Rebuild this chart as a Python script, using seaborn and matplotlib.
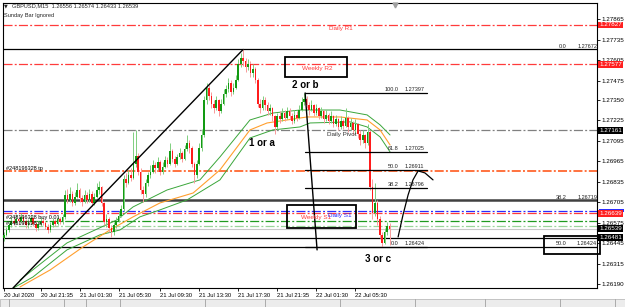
import matplotlib
matplotlib.use("Agg")
import matplotlib.pyplot as plt
import numpy as np
import pandas as pd
import seaborn as sns
from matplotlib.patches import Rectangle
from matplotlib.transforms import blended_transform_factory

# ---------------- data ----------------
first_open = 1.26480
closes = [
    1.26500, 1.26530, 1.26560, 1.26590, 1.26575, 1.26600, 1.26585, 1.26610, 1.26590, 1.26560,
    1.26580, 1.26605, 1.26570, 1.26545, 1.26565, 1.26590, 1.26575, 1.26550, 1.26530, 1.26560,
    1.26585, 1.26570, 1.26600, 1.26580, 1.26610, 1.26750, 1.26720, 1.26760, 1.26700, 1.26740,
    1.26780, 1.26730, 1.26710, 1.26750, 1.26720, 1.26760, 1.26700, 1.26740, 1.26780, 1.26800,
    1.26700, 1.26580, 1.26600, 1.26540, 1.26520, 1.26560, 1.26590, 1.26620, 1.26660, 1.26850,
    1.26830, 1.26880, 1.26860, 1.26950, 1.27000, 1.26900, 1.26780, 1.26760, 1.26830, 1.26880,
    1.26900, 1.26940, 1.26920, 1.26960, 1.26900, 1.26930, 1.26970, 1.26950, 1.27030, 1.26980,
    1.26950, 1.26990, 1.27020, 1.26980, 1.27040, 1.27080, 1.27050, 1.26950, 1.26880, 1.26950,
    1.27050, 1.27130, 1.27350, 1.27430, 1.27380, 1.27330, 1.27300, 1.27350, 1.27280, 1.27330,
    1.27390, 1.27420, 1.27460, 1.27400, 1.27430, 1.27480, 1.27580, 1.27620, 1.27600, 1.27560,
    1.27580, 1.27520, 1.27550, 1.27480, 1.27330, 1.27300, 1.27350, 1.27320, 1.27280, 1.27300,
    1.27250, 1.27180, 1.27250, 1.27230, 1.27270, 1.27240, 1.27280, 1.27250, 1.27220, 1.27260,
    1.27240, 1.27290, 1.27340, 1.27360, 1.27320, 1.27290, 1.27320, 1.27270, 1.27300, 1.27250,
    1.27280, 1.27230, 1.27260, 1.27220, 1.27250, 1.27200, 1.27230, 1.27180, 1.27220, 1.27190,
    1.27240, 1.27180, 1.27210, 1.27160, 1.27200, 1.27140, 1.27100, 1.27130, 1.27080, 1.27150,
    1.26800, 1.26640, 1.26700, 1.26600, 1.26500, 1.26450, 1.26520, 1.26556, 1.26539,
]
highs = [
    1.26520, 1.26550, 1.26580, 1.26620, 1.26610, 1.26630, 1.26615, 1.26640, 1.26625, 1.26600,
    1.26600, 1.26625, 1.26615, 1.26585, 1.26590, 1.26610, 1.26605, 1.26590, 1.26565, 1.26580,
    1.26605, 1.26600, 1.26620, 1.26615, 1.26630, 1.26780, 1.26790, 1.26800, 1.26775, 1.26770,
    1.26830, 1.26795, 1.26750, 1.26780, 1.26770, 1.26790, 1.26775, 1.26765, 1.26830, 1.26840,
    1.26810, 1.26710, 1.26630, 1.26610, 1.26560, 1.26580, 1.26610, 1.26650, 1.26690, 1.26880,
    1.26890, 1.26910, 1.26920, 1.27150, 1.27160, 1.27020, 1.26920, 1.26810, 1.26850, 1.26900,
    1.26940, 1.26970, 1.26960, 1.26990, 1.26970, 1.26960, 1.27000, 1.26990, 1.27080, 1.27040,
    1.27000, 1.27010, 1.27050, 1.27030, 1.27070, 1.27130, 1.27100, 1.27060, 1.26960, 1.26970,
    1.27080, 1.27170, 1.27380, 1.27460, 1.27445, 1.27400, 1.27350, 1.27380, 1.27360, 1.27360,
    1.27420, 1.27450, 1.27490, 1.27480, 1.27460, 1.27510, 1.27610, 1.27650, 1.27672, 1.27620,
    1.27610, 1.27600, 1.27580, 1.27560, 1.27490, 1.27360, 1.27380, 1.27370, 1.27340, 1.27330,
    1.27310, 1.27260, 1.27270, 1.27280, 1.27300, 1.27290, 1.27310, 1.27300, 1.27270, 1.27290,
    1.27280, 1.27320, 1.27370, 1.27397, 1.27380, 1.27340, 1.27350, 1.27330, 1.27330, 1.27310,
    1.27310, 1.27290, 1.27290, 1.27270, 1.27280, 1.27260, 1.27260, 1.27240, 1.27250, 1.27230,
    1.27300, 1.27250, 1.27240, 1.27220, 1.27230, 1.27210, 1.27160, 1.27160, 1.27140, 1.27200,
    1.27160, 1.26850, 1.26830, 1.26720, 1.26620, 1.26520, 1.26540, 1.26580, 1.26574,
]
lows = [
    1.26460, 1.26490, 1.26520, 1.26550, 1.26560, 1.26565, 1.26570, 1.26575, 1.26570, 1.26540,
    1.26545, 1.26570, 1.26555, 1.26525, 1.26530, 1.26555, 1.26560, 1.26535, 1.26510, 1.26520,
    1.26550, 1.26555, 1.26560, 1.26565, 1.26570, 1.26600, 1.26700, 1.26705, 1.26680, 1.26690,
    1.26730, 1.26710, 1.26680, 1.26700, 1.26700, 1.26710, 1.26680, 1.26690, 1.26730, 1.26760,
    1.26680, 1.26560, 1.26550, 1.26520, 1.26486, 1.26500, 1.26545, 1.26580, 1.26610, 1.26650,
    1.26800, 1.26820, 1.26840, 1.26850, 1.26930, 1.26880, 1.26760, 1.26710, 1.26740, 1.26810,
    1.26860, 1.26890, 1.26890, 1.26910, 1.26880, 1.26885, 1.26920, 1.26930, 1.26940, 1.26960,
    1.26930, 1.26940, 1.26980, 1.26960, 1.26970, 1.27030, 1.27020, 1.26930, 1.26830, 1.26860,
    1.26940, 1.27030, 1.27120, 1.27330, 1.27350, 1.27300, 1.27270, 1.27290, 1.27250, 1.27270,
    1.27320, 1.27370, 1.27400, 1.27380, 1.27390, 1.27420, 1.27470, 1.27560, 1.27570, 1.27530,
    1.27540, 1.27500, 1.27500, 1.27460, 1.27310, 1.27270, 1.27290, 1.27290, 1.27260, 1.27260,
    1.27220, 1.27137, 1.27170, 1.27210, 1.27220, 1.27220, 1.27230, 1.27230, 1.27200, 1.27210,
    1.27220, 1.27230, 1.27280, 1.27320, 1.27300, 1.27260, 1.27280, 1.27250, 1.27260, 1.27230,
    1.27240, 1.27210, 1.27220, 1.27200, 1.27210, 1.27180, 1.27190, 1.27160, 1.27170, 1.27170,
    1.27180, 1.27150, 1.27160, 1.27130, 1.27140, 1.27110, 1.27070, 1.27080, 1.27050, 1.27070,
    1.26780, 1.26600, 1.26620, 1.26560, 1.26480, 1.26424, 1.26440, 1.26500, 1.26433,
]

# moving-average / envelope readings (bar index, price)
ma_idx_lower = [2.5, 11.9, 25.8, 39.3, 47.5, 55.7, 63.9, 75.0, 88.5, 100.8, 110.2, 121.3, 125.4, 141.8, 148.8, 154.1, 158.2]
ma_lower = [1.26151, 1.26233, 1.26404, 1.26499, 1.26530, 1.26613, 1.26657, 1.26720, 1.26847, 1.27112,
            1.27163, 1.27182, 1.27207, 1.27214, 1.27182, 1.27119, 1.27024]
ma_idx_mid = [6.6, 18.9, 32.4, 43.4, 52.9, 63.9, 77.5, 88.5, 100.8, 107.8, 124.2, 137.7, 148.8, 154.1, 158.2]
ma_mid = [1.26170, 1.26277, 1.26423, 1.26530, 1.26613, 1.26701, 1.26764, 1.26910, 1.27163, 1.27207,
          1.27245, 1.27245, 1.27226, 1.27163, 1.27068]
ma_idx_upper = [6.6, 25.8, 46.3, 52.9, 66.8, 80.3, 88.5, 100.8, 110.2, 121.3, 137.7, 148.8, 154.1, 158.2]
ma_upper = [1.26214, 1.26448, 1.26594, 1.26676, 1.26783, 1.26847, 1.26992, 1.27226, 1.27270, 1.27289,
            1.27289, 1.27258, 1.27195, 1.27131]

# levels
daily_r1, weekly_r2, daily_pivot = 1.27827, 1.27577, 1.27161
tp_level, daily_s1, weekly_s1 = 1.26905, 1.26650, 1.26639
buy_level, sl_level, bid_level, ask_like = 1.26587, 1.26556, 1.26539, 1.26481
fib_big = [("0.0", 1.27672), ("38.2", 1.26719), ("50.0", 1.26424)]
fib_small_levels = ["100.0", "61.8", "50.0", "38.2", "0.0"]
fib_small_prices = [1.27397, 1.27025, 1.26911, 1.26796, 1.26424]

ytick_vals = [1.27865, 1.27735, 1.27605, 1.27475, 1.27350, 1.27225, 1.27095,
              1.26965, 1.26835, 1.26705, 1.26575, 1.26445, 1.26315, 1.26190]
time_pos = [0, 15, 31, 47, 64, 80, 96, 112, 128, 144]
time_labels = ["20 Jul 2020", "20 Jul 21:35", "21 Jul 01:30", "21 Jul 05:30", "21 Jul 09:30",
               "21 Jul 13:30", "21 Jul 17:30", "21 Jul 21:35", "22 Jul 01:30", "22 Jul 05:30"]

# ---------------- figure ----------------
sns.set_theme(style="white")
plt.rcParams['font.family'] = ['Liberation Sans', 'DejaVu Sans']
plt.rcParams['lines.scale_dashes'] = False

W, H = 625, 307
fig = plt.figure(figsize=(W / 100, H / 100), dpi=100)
fig.patch.set_facecolor("white")
ax = fig.add_axes([3 / W, (H - 288) / H, 594 / W, 285 / H])
ax.set_facecolor("white")
for s in ax.spines.values():
    s.set_color("black")
    s.set_linewidth(0.8)

XMIN, XMAX = -0.4, 243.0
YMIN, YMAX = 1.26163, 1.27966
ax.set_xlim(XMIN, XMAX)
ax.set_ylim(YMIN, YMAX)

dd = (0, (6.5, 1.6, 1.4, 1.6))  # MT4 dash-dot

# horizontal levels
ax.axhline(daily_r1, color="#ff3b3b", lw=0.9, ls=dd)
ax.axhline(weekly_r2, color="#ff3b3b", lw=0.9, ls=dd)
ax.axhline(daily_pivot, color="#808080", lw=0.9, ls=dd)
ax.axhline(tp_level, color="#ff5a1e", lw=1.2, ls=dd)
ax.axhline(daily_s1, color="#2b2bff", lw=0.9, ls=dd)
ax.axhline(weekly_s1, color="#ff3b3b", lw=0.9, ls=dd)
ax.axhline(buy_level, color="#1f9a1f", lw=0.9, ls=dd)
ax.axhline(sl_level, color="#9ad49a", lw=0.9, ls=dd)
ax.axhline(bid_level, color="#c8c8c8", lw=0.8)
ax.axhline(ask_like, color="black", lw=0.9)
ax.axhline(fib_big[0][1], color="black", lw=0.9)
ax.axhline(fib_big[1][1], color="#404040", lw=1.8)
ax.axhline(fib_big[2][1], color="black", lw=0.9)

# moving average + envelopes
sns.lineplot(x=ma_idx_lower, y=ma_lower, ax=ax, color="#3aa63a", lw=0.7, sort=False, estimator=None)
sns.lineplot(x=ma_idx_mid, y=ma_mid, ax=ax, color="#ff9f2e", lw=0.8, sort=False, estimator=None)
sns.lineplot(x=ma_idx_upper, y=ma_upper, ax=ax, color="#3aa63a", lw=0.7, sort=False, estimator=None)

# candles
opens = [first_open] + closes[:-1]
df = pd.DataFrame({"i": np.arange(len(closes)), "o": opens, "h": highs, "l": lows, "c": closes})
up = df["c"] >= df["o"]
wick_col = np.where(up, "#7fcf7f", "#f79a9a")
body_col = np.where(up, "#129a12", "#ff1c1c")
ax.vlines(df["i"], df["l"], df["h"], colors=wick_col, lw=0.7, zorder=3)
body_h = (df["c"] - df["o"]).abs().clip(lower=0.00003)
body_b = df[["o", "c"]].min(axis=1)
ax.bar(df["i"], body_h, bottom=body_b, width=0.66, color=body_col, linewidth=0, zorder=4)

# trend line and fib diagonal
ax.plot([3.7, 98], [1.26163, 1.27672], color="black", lw=1.0, zorder=5)
ax.plot([123.4, 128.3], [1.27397, 1.26404], color="black", lw=1.0, zorder=5)

# small fib retracement
for lvl, pr in zip(fib_small_levels, fib_small_prices):
    ax.plot([123.4, 173.4], [pr, pr], color="black", lw=0.9, zorder=5)
    ax.text(161.5, pr + 0.00003, lvl, fontsize=4, ha="right", va="bottom", color="#222222")
    ax.text(164.0, pr + 0.00003, f"{pr:.5f}", fontsize=4, ha="left", va="bottom", color="#222222")

# big fib labels at right edge
for lvl, pr in fib_big:
    ax.text(230.5, pr + 0.00003, lvl, fontsize=4, ha="right", va="bottom", color="#222222")
    ax.text(243.0, pr + 0.00003, f"{pr:.5f}", fontsize=4, ha="right", va="bottom", color="#222222")

# rectangles
for (x0, x1, y0, y1) in [(115.2, 140.6, 1.27498, 1.27625), (116.0, 144.3, 1.26543, 1.26688),
                         (221.3, 244.4, 1.26379, 1.26492)]:
    ax.add_patch(Rectangle((x0, y0), x1 - x0, y1 - y0, fill=False, ec="black", lw=1.3,
                           zorder=6, clip_on=False))

# hand-drawn arrow curve
ax.plot([161.5, 163.5, 165.6, 167.6, 169.7, 172.5, 175.8],
        [1.26486, 1.26625, 1.26752, 1.26847, 1.26904, 1.26891, 1.26847],
        color="black", lw=0.9, zorder=6)

# level texts
ax.text(138.1, 1.27805, "Daily R1", fontsize=4.5, color="#ff3b3b", ha="center", va="center")
ax.text(128.5, 1.27552, "Weekly R2", fontsize=4.6, color="#ff3b3b", ha="center", va="center", zorder=7)
ax.text(127.9, 1.26606, "Weekly S1", fontsize=4.6, color="#ff3b3b", ha="center", va="center", zorder=7)
ax.text(137.7, 1.26619, "Daily S1", fontsize=4.6, color="#2b2bff", ha="center", va="center", zorder=7)
ax.text(138.5, 1.27131, "Daily Pivot", fontsize=4.5, color="#333333", ha="center", va="center", zorder=7)
ax.text(0.8, 1.26920, "#248196328 tp", fontsize=4.0, color="black", ha="left", va="center", zorder=7)
ax.text(0.8, 1.26610, "#248196328 buy 0.01", fontsize=4.0, color="black", ha="left", va="center", zorder=7)
ax.text(0.8, 1.26572, "#248196328 sl", fontsize=4.0, color="black", ha="left", va="center", zorder=7)

# wave labels
ax.text(123.4, 1.27448, "2 or b", fontsize=7, fontweight="bold", color="black", ha="center", va="center", zorder=7)
ax.text(105.7, 1.27081, "1 or a", fontsize=7, fontweight="bold", color="black", ha="center", va="center", zorder=7)
ax.text(153.3, 1.26347, "3 or c", fontsize=7, fontweight="bold", color="black", ha="center", va="center", zorder=7)

# chart shift marker
ax.plot([160.4], [YMAX - 0.00010], marker="v", ms=3.5, color="#a0a0a0", clip_on=False, zorder=7)

# right price axis
ax.yaxis.tick_right()
ax.set_yticks(ytick_vals)
ax.set_yticklabels([f"{v:.5f}" for v in ytick_vals], fontsize=4.5, color="black")
ax.tick_params(axis="y", which="both", right=True, length=2, width=0.6, pad=1.5, colors="black")
tr = blended_transform_factory(ax.transAxes, ax.transData)
# blue Daily S1 price tag, mostly hidden behind the red Weekly S1 tag
ax.add_patch(Rectangle((1.003, daily_s1 - 0.00004), 0.043, 0.00014, transform=tr, fc="#2b2bff",
                       ec="none", clip_on=False, zorder=7))
for pr, bg in [(daily_r1, "#ff2020"), (weekly_r2, "#ff2020"), (daily_pivot, "black"),
               (weekly_s1, "#ff2020"), (bid_level, "black"), (ask_like, "black")]:
    ax.text(1.004, pr - (0.00002 if pr == weekly_s1 else 0.0), f"{pr:.5f}", transform=tr, fontsize=4.5,
            color="white", ha="left", va="center",
            bbox=dict(boxstyle="square,pad=0.15", fc=bg, ec="none"), zorder=8, clip_on=False)

# time axis
ax.set_xticks(time_pos)
ax.set_xticklabels(time_labels, fontsize=4.2, color="black")
for lbl in ax.get_xticklabels():
    lbl.set_horizontalalignment("left")
ax.tick_params(axis="x", bottom=True, length=2.5, width=0.6, pad=1.2, colors="black")
ax.grid(False)

# title texts
fig.text(4 / W, 1 - 6 / H, "\u25BC", fontsize=3.5, family=["DejaVu Sans"], va="center", ha="left")
fig.text(12 / W, 1 - 6 / H, "GBPUSD,M15  1.26556 1.26574 1.26433 1.26539", fontsize=4.1, va="center", ha="left")
fig.text(4 / W, 1 - 15 / H, "Sunday Bar Ignored", fontsize=4.1, va="center", ha="left")

# bottom tab strip
fig.patches.append(Rectangle((0, 0), 1, 8 / H, transform=fig.transFigure, fc="#ececec", ec="#b0b0b0", lw=0.5))
for xp in [9, 64, 86, 120, 205, 265, 340, 415, 485, 560, 615]:
    fig.lines.append(plt.Line2D([xp / W, xp / W], [0, 8 / H], transform=fig.transFigure, color="#a0a0a0", lw=0.6))

fig.savefig("out.png", dpi=100, facecolor="white")
